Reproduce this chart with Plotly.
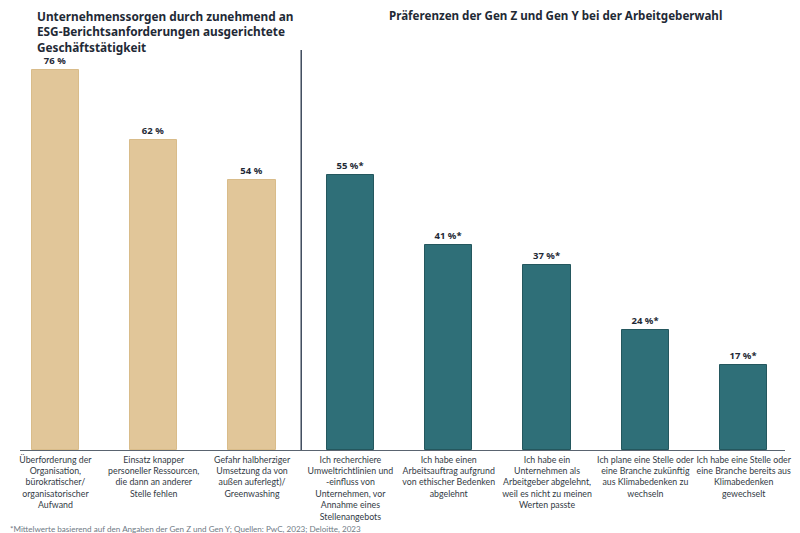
import plotly.graph_objects as go

categories = [
    "Überforderung der<br>Organisation,<br>bürokratischer/<br>organisatorischer<br>Aufwand",
    "Einsatz knapper<br>personeller Ressourcen,<br>die dann an anderer<br>Stelle fehlen",
    "Gefahr halbherziger<br>Umsetzung da von<br>außen auferlegt)/<br>Greenwashing",
    "Ich recherchiere<br>Umweltrichtlinien und<br>-einfluss von<br>Unternehmen, vor<br>Annahme eines<br>Stellenangebots",
    "Ich habe einen<br>Arbeitsauftrag aufgrund<br>von ethischer Bedenken<br>abgelehnt",
    "Ich habe ein<br>Unternehmen als<br>Arbeitgeber abgelehnt,<br>weil es nicht zu meinen<br>Werten passte",
    "Ich plane eine Stelle oder<br>eine Branche zukünftig<br>aus Klimabedenken zu<br>wechseln",
    "Ich habe eine Stelle oder<br>eine Branche bereits aus<br>Klimabedenken<br>gewechselt",
]
concerns_values = [76, 62, 54]
preferences_values = [55, 41, 37, 24, 17]
concerns_labels = ["76 %", "62 %", "54 %"]
preferences_labels = ["55 %*", "41 %*", "37 %*", "24 %*", "17 %*"]

title_left = "Unternehmenssorgen durch zunehmend an<br>ESG-Berichtsanforderungen ausgerichtete<br>Geschäftstätigkeit"
title_right = "Präferenzen der Gen Z und Gen Y bei der Arbeitgeberwahl"
footnote = "*Mittelwerte basierend auf den Angaben der Gen Z und Gen Y; Quellen: PwC, 2023; Deloitte, 2023"

FONT = "Noto Sans"
LFONT = "Lato"
TAN = "#E1C699"
TEAL = "#2F6F78"

fig = go.Figure()
fig.add_trace(go.Bar(
    x=[0, 1, 2], y=concerns_values, width=0.48,
    marker=dict(color=TAN, line=dict(color="#D9BC8A", width=1)),
    text=concerns_labels, textposition="outside", cliponaxis=False,
    textfont=dict(family=FONT, size=9.5, color="#1f2a36", weight="bold"),
    hoverinfo="skip",
))
fig.add_trace(go.Bar(
    x=[3, 4, 5, 6, 7], y=preferences_values, width=0.48,
    marker=dict(color=TEAL, line=dict(color="#24575E", width=1)),
    text=preferences_labels, textposition="outside", cliponaxis=False,
    textfont=dict(family=FONT, size=9.5, color="#1f2a36", weight="bold"),
    hoverinfo="skip",
))

fig.add_shape(type="line", xref="x", yref="y", x0=2.5, x1=2.5, y0=0, y1=80.3,
              line=dict(color="#3d4a5c", width=1.5))

fig.add_annotation(text=title_left, xref="paper", yref="paper", x=0.02, y=1.11,
                   xanchor="left", yanchor="top", showarrow=False, align="left",
                   font=dict(family=FONT, size=11.8, color="#1f2a36", weight="bold"))
fig.add_annotation(text=title_right, xref="paper", yref="paper", x=0.70, y=1.11,
                   xanchor="center", yanchor="top", showarrow=False, align="center",
                   font=dict(family=FONT, size=11.6, color="#1f2a36", weight="bold"))
fig.add_annotation(text=footnote, xref="paper", yref="paper", x=-0.016, y=-0.197,
                   xanchor="left", yanchor="middle", showarrow=False, align="left",
                   font=dict(family=LFONT, size=8.1, color="#6f7a85"))

# page body has an 8px margin; size the figure so plot area lands where the reference has it
fig.update_layout(
    width=792, height=525,
    margin=dict(l=12, r=15, t=42, b=83, autoexpand=False),
    paper_bgcolor="white", plot_bgcolor="white",
    showlegend=False, bargap=0,
    font=dict(family=FONT),
    xaxis=dict(range=[-0.36, 7.42], tickvals=list(range(8)), ticktext=categories,
               showgrid=False, zeroline=False, showline=True, linecolor="#5a6470",
               linewidth=1, ticks="", tickangle=0, automargin=False,
               ticklabelstandoff=1,
               tickfont=dict(family=LFONT, size=8.8, color="#333b45")),
    yaxis=dict(range=[0, 80], visible=False, showgrid=False, zeroline=False,
               automargin=False),
)

fig.write_html("out.html")
